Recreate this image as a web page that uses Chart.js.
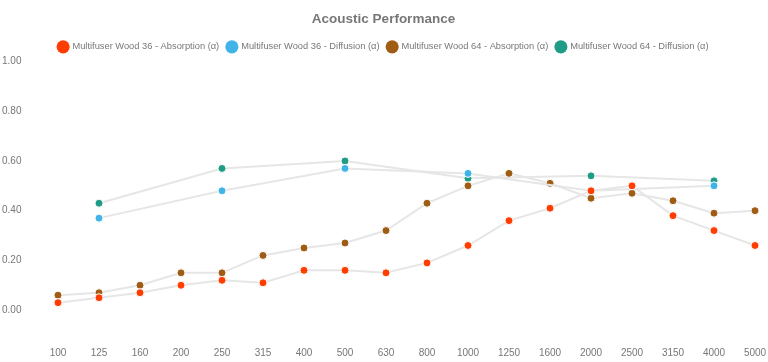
<!DOCTYPE html>
<html>
<head>
<meta charset="utf-8">
<script src="https://cdn.jsdelivr.net/npm/chart.js@4.4.0/dist/chart.umd.min.js"></script>
<style>
html,body{margin:0;padding:0;background:#fff;}
#wrap{width:768px;height:362px;}
</style>
</head>
<body>
<div id="wrap"><canvas id="c" width="768" height="362"></canvas></div>
<script>
const categories = ["100","125","160","200","250","315","400","500","630","800","1000","1250","1600","2000","2500","3150","4000","5000"];
const wood36Absorption = [0.03,0.05,0.07,0.10,0.12,0.11,0.16,0.16,0.15,0.19,0.26,0.36,0.41,0.48,0.50,0.38,0.32,0.26];
const wood36Diffusion = [null,0.37,null,null,0.48,null,null,0.57,null,null,0.55,null,null,0.48,null,null,0.50,null];
const wood64Absorption = [0.06,0.07,0.10,0.15,0.15,0.22,0.25,0.27,0.32,0.43,0.50,0.55,0.51,0.45,0.47,0.44,0.39,0.40];
const wood64Diffusion = [null,0.43,null,null,0.57,null,null,0.60,null,null,0.53,null,null,0.54,null,null,0.52,null];
const yTicks = [0,0.2,0.4,0.6,0.8,1.0];

const seriesNames = ["Multifuser Wood 36 - Absorption (\u03b1)","Multifuser Wood 36 - Diffusion (\u03b1)","Multifuser Wood 64 - Absorption (\u03b1)","Multifuser Wood 64 - Diffusion (\u03b1)"];
const seriesColors = ["#ff3d00","#40b4e6","#9f5c14","#1f9c85"];
const seriesData = [wood36Absorption, wood36Diffusion, wood64Absorption, wood64Diffusion];

Chart.defaults.font.family = "'Liberation Sans', Arial, sans-serif";
Chart.defaults.font.size = 10;
Chart.defaults.color = "#777";

new Chart(document.getElementById('c'), {
  type: 'line',
  data: {
    labels: categories,
    datasets: seriesData.map((d, i) => ({
      label: seriesNames[i],
      data: d,
      spanGaps: true,
      borderColor: '#e6e6e6',
      borderWidth: 2,
      backgroundColor: seriesColors[i],
      pointBackgroundColor: seriesColors[i],
      pointBorderColor: '#ffffff',
      pointBorderWidth: 1,
      pointRadius: 4,
      tension: 0,
      fill: false
    }))
  },
  options: {
    responsive: false,
    animation: false,
    layout: { padding: { left: 2, right: 3, top: 0, bottom: 0 } },
    plugins: {
      title: {
        display: true,
        text: 'Acoustic Performance',
        color: '#777',
        font: { size: 13.5, weight: 'bold' },
        padding: { top: 11, bottom: 7 }
      },
      legend: {
        labels: {
          usePointStyle: true,
          pointStyle: 'circle',
          boxWidth: 12,
          boxHeight: 12,
          color: '#777',
          padding: 8,
          font: { size: 9.3 },
          generateLabels: (chart) => chart.data.datasets.map((ds, i) => ({
            text: ds.label,
            fillStyle: seriesColors[i],
            strokeStyle: seriesColors[i],
            lineWidth: 0,
            pointStyle: 'circle',
            hidden: !chart.isDatasetVisible(i),
            datasetIndex: i,
            fontColor: '#777'
          }))
        }
      },
      tooltip: { enabled: false }
    },
    scales: {
      x: {
        grid: { display: false, drawTicks: false },
        border: { display: false },
        afterFit: (axis) => { axis.paddingRight = 13; axis.paddingLeft = 0; axis.height = 27; },
        ticks: { padding: 12, color: '#777', maxRotation: 0, autoSkip: false }
      },
      y: {
        min: -0.1,
        max: 1.0,
        grid: { display: false, drawTicks: false },
        border: { display: false },
        afterBuildTicks: (axis) => { axis.ticks = yTicks.map(v => ({ value: v })); },
        afterFit: (axis) => { axis.width = 56; },
        ticks: {
          crossAlign: 'far',
          color: '#777',
          callback: (v) => Number(v).toFixed(2)
        }
      }
    }
  }
});
</script>
</body>
</html>
